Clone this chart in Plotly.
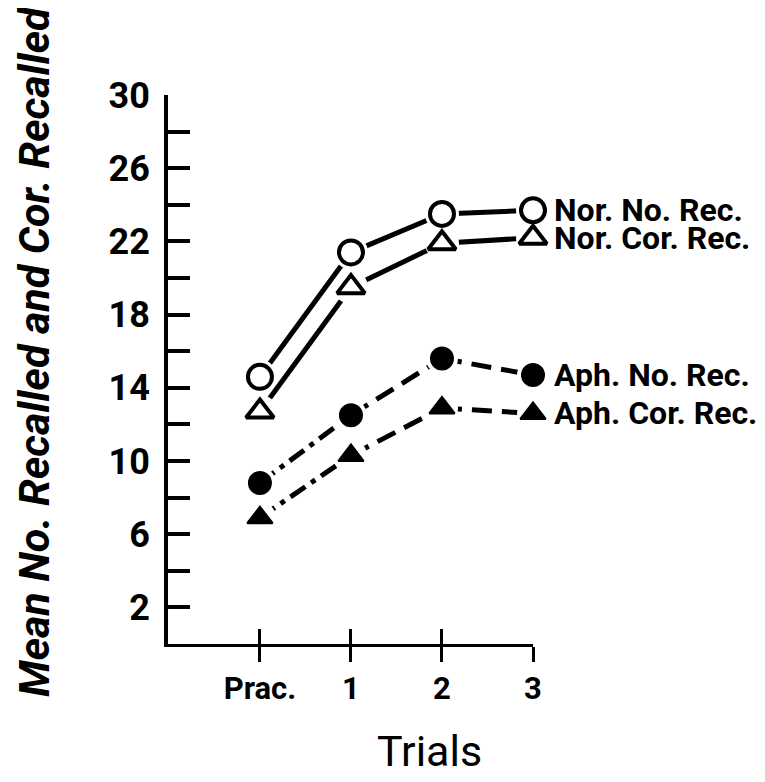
import plotly.graph_objects as go

# ---- data ----
trial_labels = ["Prac.", "1", "2", "3"]
trial_pos = [0, 1, 2, 3]
nor_no_rec = [14.6, 21.4, 23.5, 23.7]
nor_cor_rec = [12.7, 19.5, 21.9, 22.2]
aph_no_rec = [8.8, 12.5, 15.6, 14.7]
aph_cor_rec = [6.9, 10.3, 12.9, 12.6]
series_names = ["Nor. No. Rec.", "Nor. Cor. Rec.", "Aph. No. Rec.", "Aph. Cor. Rec."]
y_ticks = list(range(2, 31, 2))
y_ticktext = [str(v) if (v - 2) % 4 == 0 else "" for v in y_ticks]

FONT = "Roboto, Liberation Sans, sans-serif"
INK = "black"
LW = 5

W, H = 765, 782
OFF = 8                      # page body margin in the browser
PL, PR, PT, PB = 168, 533, 95, 644   # plot area in page pixels
ML, MR, MT, MB = PL - OFF, W - (PR - OFF), PT - OFF, H - (PB - OFF)


def paper_x(px):
    return (px - PL) / (PR - PL)


def paper_y(py):
    return (PB - py) / (PB - PT)


series = [
    (nor_no_rec, "circle-open", 24, 4, ["solid", "solid", "solid"]),
    (nor_cor_rec, "triangle-up-open", 24, 4, ["solid", "solid", "solid"]),
    (aph_no_rec, "circle", 22, 2, ["18px,7px,5px,7px", "20px,10px", "20px,10px"]),
    (aph_cor_rec, "triangle-up", 22, 2, ["18px,7px,5px,7px", "20px,10px", "20px,10px"]),
]

fig = go.Figure()

# lines, segment by segment (different dash styles per segment)
for vals, sym, size, mlw, dashes in series:
    for i, d in enumerate(dashes):
        fig.add_trace(go.Scatter(
            x=trial_pos[i:i + 2], y=vals[i:i + 2], mode="lines",
            line=dict(color=INK, width=LW, dash=d),
            showlegend=False, hoverinfo="skip", cliponaxis=False))

# white halos to open a gap in the line around each marker
for vals, sym, size, mlw, dashes in series:
    fig.add_trace(go.Scatter(
        x=trial_pos, y=vals, mode="markers",
        marker=dict(symbol="circle", size=size + 10, color="white"),
        showlegend=False, hoverinfo="skip", cliponaxis=False))

# markers
for (vals, sym, size, mlw, dashes), name in zip(series, series_names):
    fig.add_trace(go.Scatter(
        x=trial_pos, y=vals, mode="markers", name=name,
        marker=dict(symbol=sym, size=size, color=INK,
                    line=dict(color=INK, width=mlw)),
        showlegend=False, cliponaxis=False))

# series labels at the right end
for (vals, sym, size, mlw, dashes), name in zip(series, series_names):
    fig.add_annotation(x=trial_pos[-1], y=vals[-1], text=name, showarrow=False,
                       xanchor="left", yanchor="middle", xshift=19,
                       font=dict(family=FONT, size=32, color=INK, weight="bold"))

# y-axis title
fig.add_annotation(xref="paper", yref="paper", x=paper_x(34), y=paper_y(352),
                   text="<i>Mean No. Recalled and Cor. Recalled</i>", textangle=-90,
                   showarrow=False, xanchor="center", yanchor="middle",
                   font=dict(family=FONT, size=43, color=INK, weight="bold"))

# x-axis title
fig.add_annotation(xref="paper", yref="paper", x=paper_x(429), y=paper_y(751),
                   text="Trials", showarrow=False, xanchor="center", yanchor="middle",
                   font=dict(family=FONT, size=43, color=INK))

fig.update_layout(
    width=W, height=H,
    margin=dict(l=ML, r=MR, t=MT, b=MB),
    paper_bgcolor="white", plot_bgcolor="white",
    showlegend=False,
    xaxis=dict(range=[-1.01, 3], tickvals=trial_pos, ticktext=trial_labels,
               ticks="outside", ticklen=15, tickwidth=3, tickcolor=INK,
               showline=True, linewidth=3, linecolor=INK,
               showgrid=False, zeroline=False, automargin=False,
               tickfont=dict(family=FONT, size=31, color=INK, weight="bold")),
    xaxis2=dict(range=[-1.01, 3], tickvals=trial_pos, overlaying="x", anchor="y",
                side="bottom", ticks="inside", ticklen=15, tickwidth=3, tickcolor=INK,
                showticklabels=False, showline=False, showgrid=False, zeroline=False,
                automargin=False),
    yaxis=dict(range=[0, 30], tickvals=y_ticks, ticktext=y_ticktext,
               ticks="inside", ticklen=22, tickwidth=4, tickcolor=INK,
               showline=True, linewidth=4, linecolor=INK,
               showgrid=False, zeroline=False, ticklabelstandoff=7, automargin=False,
               tickfont=dict(family=FONT, size=36, color=INK, weight="bold")),
)

# dummy trace so xaxis2 is drawn
fig.add_trace(go.Scatter(x=[None], y=[None], xaxis="x2", yaxis="y",
                         showlegend=False, hoverinfo="skip"))

fig.write_html("out.html")
